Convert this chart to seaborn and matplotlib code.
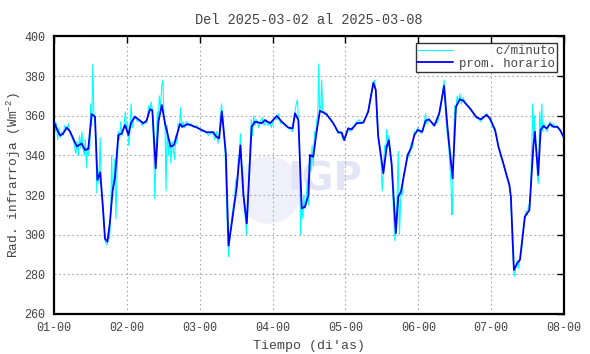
import matplotlib
matplotlib.use("Agg")
import matplotlib.pyplot as plt
from matplotlib.patches import Ellipse
import seaborn as sns
import pandas as pd

title = "Del 2025-03-02 al 2025-03-08"
xlabel = "Tiempo (di'as)"
ylabel = "Rad. infrarroja (Wm$^{-2}$)"
day_labels = ["01-00", "02-00", "03-00", "04-00", "05-00", "06-00", "07-00", "08-00"]
y_ticks = [260, 280, 300, 320, 340, 360, 380, 400]

# hourly mean (hours since start, W m-2)
hour_t = [0.0, 1.0, 2.0, 3.0, 4.2, 5.3, 7.5, 9.1, 10.2, 11.3, 12.4, 13.5, 14.3, 15.2, 16.0,
          16.8, 17.6, 18.4, 19.3, 20.1, 21.2, 22.3, 23.4, 24.5, 25.4, 26.7, 29.4, 30.5, 31.6,
          32.4, 33.5, 34.4, 35.5, 36.6, 38.4, 39.5, 41.5, 42.3, 44.0, 45.5, 47.1, 48.7, 50.3,
          52.5, 53.4, 54.4, 55.3, 56.6, 57.5, 58.7, 60.2, 61.4, 62.4, 63.5, 65.1, 66.2, 68.4,
          69.5, 71.2, 73.4, 75.0, 77.2, 78.6, 79.4, 80.5, 81.6, 82.7, 83.8, 84.3, 85.4, 86.5,
          87.6, 89.8, 92.0, 93.6, 94.8, 95.6, 96.9, 98.1, 99.7, 101.9, 103.5, 105.2, 106.0,
          106.8, 108.5, 109.6, 110.3, 111.2, 112.6, 113.4, 114.3, 115.6, 116.5, 117.6, 118.7,
          119.8, 121.3, 122.4, 123.5, 125.3, 126.9, 128.5, 129.6, 131.3, 132.4, 133.7, 134.8,
          137.0, 139.2, 140.6, 142.5, 143.6, 145.3, 146.4, 148.0, 150.0, 150.5, 151.5, 152.6,
          153.5, 155.1, 156.6, 157.9, 158.4, 159.5, 160.3, 161.2, 162.3, 163.4, 164.5, 165.8,
          166.7, 167.8]
hour_v = [357, 353, 350, 351, 354, 352, 344.5, 346, 342.7, 343.3, 360.8, 359.5, 327.6, 331.5, 316,
          298, 296.5, 306, 322, 329, 350.3, 351, 355.3, 350.3, 356.5, 359.5, 356.2, 357.5, 363.3,
          362.7, 333.5, 357, 365.4, 356, 344.4, 345.2, 355.8, 354.4, 355.8, 355, 354, 352.8, 351.6,
          351.7, 349.5, 348.6, 362.2, 341, 294.5, 307.4, 324.2, 345, 320, 305.7, 354.4, 357, 356.2,
          357.8, 356.2, 359.9, 357, 354, 353.6, 361.2, 357.8, 313.3, 314.1, 320, 340.2, 339.3, 351.9,
          362.5, 360.7, 356.2, 351.7, 351.4, 347.7, 353.6, 353.1, 356.2, 356.5, 362, 376.6, 373,
          349.4, 331, 344.4, 347.7, 336, 300.7, 319.2, 321.7, 332.6, 340.2, 343.6, 350.3,
          352.8, 351.9, 357.5, 358.2, 355, 361.2, 375, 354.4, 328.4, 364.5, 368.3, 367.6,
          363.7, 359.2, 358.2, 360.4, 358.7, 352.8, 344.4, 336, 325, 319.2, 282.2, 285.6,
          287.4, 309.1, 312.4, 344.4, 351.9, 330.1, 352.8, 354.8, 353.6, 355.8, 354.4, 354.4,
          352.8, 349.4]

# per-minute trace (hours since start, W m-2), read at its visible turning points
min_t = [0.0, 0.4, 0.8, 1.2, 1.6, 2.0, 2.5, 3.0, 3.5, 4.2, 4.8, 5.3, 6.0, 6.6, 7.2, 7.6, 8.0, 8.4,
         8.8, 9.2, 9.6, 10.0, 10.3, 10.7, 11.0, 11.4, 11.8, 12.1, 12.4, 12.8, 13.1, 13.5, 13.8,
         14.1, 14.4, 14.8, 15.2, 15.5, 15.8, 16.3, 16.8, 17.3, 17.7, 18.0, 18.3, 18.7, 19.0, 19.3,
         19.7, 20.0, 20.4, 20.8, 21.2, 21.6, 22.0, 22.4, 22.8, 23.2, 23.5, 23.9, 24.3, 24.6, 25.0,
         25.4, 25.8, 26.3, 26.8, 27.5, 28.3, 29.0, 29.7, 30.3, 30.8, 31.2, 31.6, 32.0, 32.4, 32.8,
         33.2, 33.6, 34.0, 34.3, 34.7, 35.1, 35.5, 35.9, 36.2, 36.6, 36.9, 37.3, 37.7, 38.1, 38.5,
         38.9, 39.3, 39.7, 40.1, 40.5, 40.9, 41.3, 41.7, 42.1, 42.5, 43.0, 43.6, 44.2, 45, 46, 47,
         48, 49, 50, 51, 52, 53, 53.6, 54, 54.4, 54.8, 55.2, 55.6, 56.0, 56.4, 56.8, 57.2, 57.5,
         57.9, 58.3, 58.7, 59.1, 59.5, 59.9, 60.3, 60.7, 61.1, 61.4, 61.8, 62.2, 62.6, 63.0, 63.4,
         63.8, 64.2, 64.6, 65.0, 65.4, 65.8, 66.2, 66.8, 67.4, 68.0, 68.6, 69.2, 69.8, 70.4, 71.0,
         71.6, 72.2, 72.8, 73.4, 74, 74.6, 75.2, 76, 77, 78, 78.6, 79.0, 79.4, 79.8, 80.2, 80.5,
         80.9, 81.2, 81.6, 82.0, 82.3, 82.7, 83.1, 83.5, 83.9, 84.2, 84.6, 85.0, 85.4, 85.8, 86.1,
         86.5, 86.9, 87.2, 87.5, 87.9, 88.2, 88.5, 89, 89.8, 90.5, 91.3, 92, 92.8, 93.6, 94.4,
         95.2, 96.0, 96.9, 97.5, 98.1, 99, 99.7, 100.5, 101.3, 102, 102.7, 103.5, 104.2, 105.2,
         105.6, 106.0, 106.4, 106.8, 107.3, 107.7, 108.1, 108.5, 108.9, 109.3, 109.6, 110.0,
         110.3, 110.7, 111.2, 111.6, 112.0, 112.3, 112.6, 113.0, 113.4, 113.8, 114.3, 114.7,
         115.1, 115.6, 116.0, 116.5, 117.0, 117.6, 118.1, 118.7, 119.2, 119.8, 120.4, 121.0,
         121.6, 122.0, 122.4, 122.8, 123.5, 124.2, 125.0, 125.7, 126.3, 126.9, 127.5, 128.0,
         128.5, 129.0, 129.6, 130.0, 130.4, 130.8, 131.1, 131.3, 131.7, 132.0, 132.4, 132.8,
         133.2, 133.7, 134.2, 134.8, 135.5, 136.2, 137.0, 137.8, 138.5, 139.2, 140, 140.6, 141.4,
         142.0, 142.5, 143.0, 143.6, 144.3, 145.0, 145.7, 146.4, 147.2, 148.0, 148.8, 149.4,
         150.0, 150.5, 151.0, 151.5, 151.8, 152.2, 152.6, 153.0, 153.5, 154.0, 154.5, 155.1,
         155.5, 155.9, 156.3, 156.6, 157.0, 157.4, 157.7, 158.0, 158.3, 158.6, 159.0, 159.3,
         159.6, 160.0, 160.3, 160.7, 161.0, 161.4, 161.9, 162.4, 162.9, 163.4, 164.0, 164.5,
         165.2, 165.8, 166.4, 167.0, 167.6, 168.0]
min_v = [358, 352, 356, 348, 354, 349, 352, 350, 355, 353, 356, 351, 349, 346, 341, 347, 340, 350,
         344, 352, 343, 340, 348, 334, 344, 340, 345, 366, 355, 386, 362, 357, 349,
         321, 333, 326, 349, 330, 320, 312, 297, 295, 296, 303, 298, 311, 340, 322,
         326, 338, 308, 333, 352, 348, 357, 350, 353, 357, 362, 353, 356, 345, 352,
         366, 354, 360, 359, 357, 358, 355, 357, 356, 359, 365, 362, 367, 363, 345,
         318, 338, 362, 355, 370, 364, 375, 378, 360, 353, 322, 355, 340, 348, 336,
         347, 343, 338, 350, 346, 356, 354, 364, 354, 357, 354, 357, 355, 356, 354, 355,
         353, 352, 352, 350, 352, 348, 352, 346, 350, 360, 366, 358, 352, 340, 318, 300, 289,
         298, 305, 310, 315, 318, 328, 325, 338, 340, 351, 337, 330, 315, 309, 300,
         312, 330, 345, 358, 350, 360, 355, 358, 354, 357, 359, 355, 358, 355, 357,
         354, 357, 359, 358, 361, 356, 357, 355, 354, 353, 352, 359, 362, 366, 368, 357,
         345, 300, 316, 308, 320, 313, 318, 328, 315, 340, 332, 345, 335, 352, 348,
         357, 361, 386, 362, 365, 378, 363, 362, 361, 359, 358, 356, 354, 351, 352,
         348, 350, 354, 352, 354, 355, 357, 358, 356, 357, 359, 363, 369, 377,
         378, 372, 358, 350, 345, 340, 322, 332, 345, 343, 353, 344,
         350, 341, 336, 320, 305, 297, 302, 318, 342, 300, 321, 320,
         330, 333, 336, 341, 339, 346, 344, 352, 351, 354, 352, 351,
         354, 356, 361, 356, 358, 357, 355, 357, 356, 361, 365, 372,
         378, 360, 350, 345, 335, 325, 310, 318, 350, 365, 363, 370,
         366, 371, 366, 369, 366, 365, 364, 362, 360, 359, 358, 357, 359,
         360, 361, 359, 358, 355, 353, 350, 345, 340, 336, 331, 328,
         326, 318, 295, 281, 279, 285, 287, 283, 288, 292, 300, 308,
         312, 310, 315, 313, 322, 345, 366, 350, 360, 346, 340, 328,
         326, 362, 348, 366, 352, 356, 354, 352, 355, 357, 354, 356,
         354, 355, 353, 352, 350, 349]

df_h = pd.DataFrame({"dia": [t / 24 for t in hour_t], "rad": hour_v})
df_m = pd.DataFrame({"dia": [t / 24 for t in min_t], "rad": min_v})

sns.set_style("white")
plt.rcParams["font.family"] = ["Liberation Mono", "DejaVu Sans Mono"]
plt.rcParams["mathtext.fontset"] = "custom"
plt.rcParams["mathtext.rm"] = "Liberation Mono"
plt.rcParams["mathtext.it"] = "Liberation Mono"
txt = "#444444"

fig = plt.figure(figsize=(5.9, 3.54), dpi=100)
ax = fig.add_axes([54 / 590, 1 - 314 / 354, 510 / 590, (314 - 36.4) / 354])

# faint watermark
ax.add_patch(Ellipse((2.94, 322.5), 0.92, 34, color="#f0f0fa", zorder=0, lw=0))
ax.text(3.72, 328, "IGP", color="#e4e4f4", fontsize=28, fontweight="bold",
        family="DejaVu Sans", ha="center", va="center", zorder=0)

sns.lineplot(data=df_m, x="dia", y="rad", ax=ax, color="#00ffff", lw=0.8,
             label="     c/minuto", estimator=None, sort=False, zorder=2)
sns.lineplot(data=df_h, x="dia", y="rad", ax=ax, color="#0000ff", lw=1.3,
             label="prom. horario", estimator=None, sort=False, zorder=3)

ax.set_xlim(0, 7)
ax.set_ylim(260, 400)
ax.set_xticks(range(8))
ax.set_xticklabels(day_labels)
ax.set_yticks(y_ticks)
ax.grid(True, color="#a8a8a8", ls=(0, (1.5, 2.5)), lw=0.8)
ax.tick_params(direction="in", length=5, width=1, top=True, right=True,
               labelsize=8.5, labelcolor=txt, color="black", pad=6)
for s in ax.spines.values():
    s.set_color("black")
    s.set_linewidth(1.6)

ax.set_title(title, fontsize=9.8, color=txt, pad=9)
ax.set_xlabel(xlabel, fontsize=9.5, color=txt, labelpad=4)
ax.set_ylabel(ylabel, fontsize=9.3, color=txt, labelpad=1)

leg = ax.legend(loc="upper right", fontsize=8.9, frameon=True, fancybox=False,
                handlelength=2.9, borderpad=0.15, labelspacing=0.05, handletextpad=0.5,
                borderaxespad=0.55)
leg.get_frame().set_edgecolor("black")
leg.get_frame().set_linewidth(1.0)
for t in leg.get_texts():
    t.set_color(txt)

fig.savefig("out.png", dpi=100)
